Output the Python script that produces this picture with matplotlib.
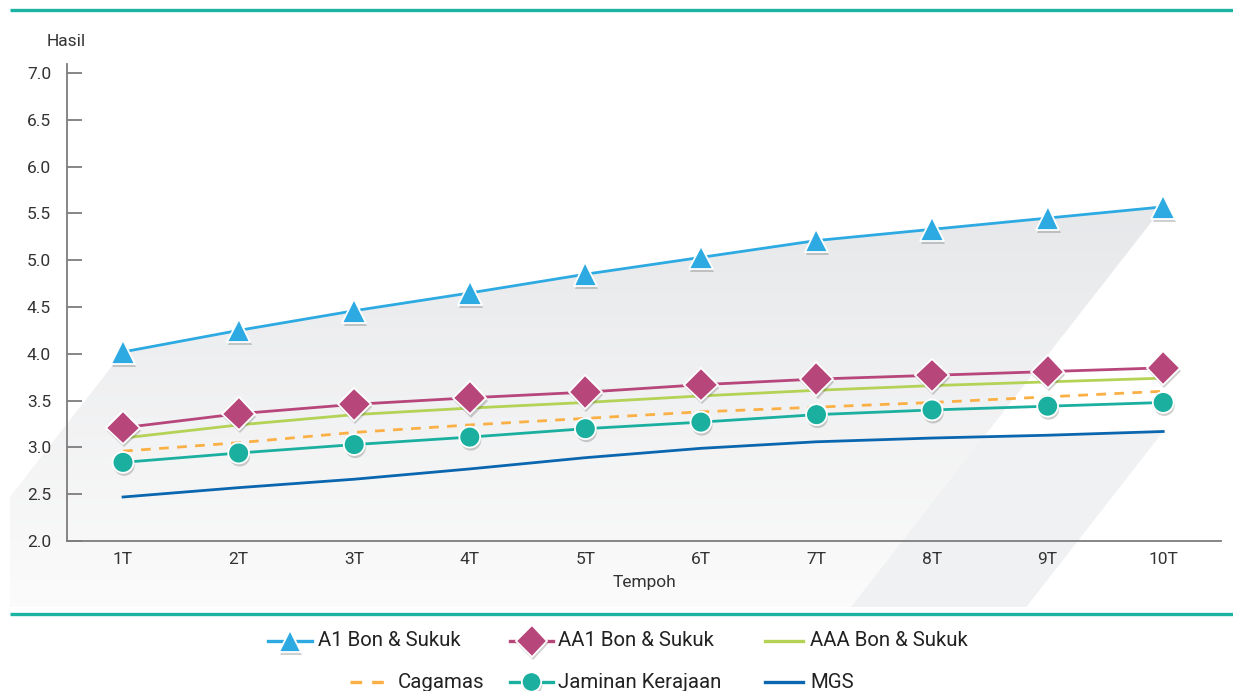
import matplotlib
matplotlib.use("Agg")
import matplotlib.pyplot as plt
import matplotlib.patheffects as pe
from matplotlib.patches import Polygon
import numpy as np

plt.rcParams['font.family'] = ['Roboto', 'DejaVu Sans']

# ---------------- data ----------------
tenors = ["1T", "2T", "3T", "4T", "5T", "6T", "7T", "8T", "9T", "10T"]
a1 = [4.02, 4.25, 4.46, 4.65, 4.85, 5.03, 5.21, 5.33, 5.45, 5.57]
aa1 = [3.21, 3.36, 3.46, 3.53, 3.59, 3.67, 3.73, 3.77, 3.81, 3.85]
aaa = [3.10, 3.24, 3.35, 3.42, 3.48, 3.55, 3.61, 3.66, 3.70, 3.74]
cagamas = [2.96, 3.05, 3.16, 3.24, 3.31, 3.38, 3.43, 3.48, 3.54, 3.60]
jaminan = [2.84, 2.94, 3.03, 3.11, 3.20, 3.27, 3.35, 3.40, 3.44, 3.48]
mgs = [2.47, 2.57, 2.66, 2.77, 2.89, 2.99, 3.06, 3.10, 3.13, 3.17]
names = ["A1 Bon & Sukuk", "AA1 Bon & Sukuk", "AAA Bon & Sukuk",
         "Cagamas", "Jaminan Kerajaan", "MGS"]
yticks = [2.0, 2.5, 3.0, 3.5, 4.0, 4.5, 5.0, 5.5, 6.0, 6.5, 7.0]

W, H = 1233, 691
fig = plt.figure(figsize=(W / 100, H / 100), dpi=100)
fig.patch.set_facecolor("white")

# background axes in pixel coordinates (y downward)
ax_bg = fig.add_axes([0, 0, 1, 1], zorder=0)
ax_bg.set_xlim(0, W)
ax_bg.set_ylim(H, 0)
ax_bg.axis("off")

ax = fig.add_axes([67 / W, (H - 541) / H, (1221 - 67) / W, (541 - 64) / H], zorder=1)
ax.set_facecolor("none")
x = np.arange(len(tenors))
ax.set_xlim(-0.485, 9.5)
ax.set_ylim(2.0, 7.096)

def to_px(xs, ys):
    pts = ax.transData.transform(np.column_stack([xs, ys]))
    return pts[:, 0], H - pts[:, 1]

shear = 0.78
bottom_y = 607
left_x = 10

# polygon 2 (behind) along MGS
mx, my = to_px(x, mgs)
poly2 = list(zip(mx, my)) + [(mx[-1] - shear * (bottom_y - my[-1]), bottom_y),
                             (mx[0] - shear * (bottom_y - my[0]), bottom_y)]
ax_bg.add_patch(Polygon(poly2, closed=True, facecolor="#f0f1f2", edgecolor="none", zorder=1))

# polygon 1 along A1 with gradient
ax_x, ax_y = to_px(x, a1)
yl = ax_y[0] + (ax_x[0] - left_x) / shear
poly1 = list(zip(ax_x, ax_y)) + [(ax_x[-1] - shear * (bottom_y - ax_y[-1]), bottom_y),
                                 (left_x, bottom_y), (left_x, yl)]
p1 = Polygon(poly1, closed=True, facecolor="none", edgecolor="none", zorder=2)
ax_bg.add_patch(p1)
grad = np.linspace(0, 1, 256).reshape(-1, 1)
c_top = np.array([0.905, 0.909, 0.918])
c_bot = np.array([0.985, 0.985, 0.985])
img = c_top[None, None, :] * (1 - grad[:, :, None]) + c_bot[None, None, :] * grad[:, :, None]
im = ax_bg.imshow(img, extent=(0, W, bottom_y, min(ax_y)), origin="upper",
                  aspect="auto", zorder=2, interpolation="bilinear")
im.set_clip_path(p1)
ax_bg.set_xlim(0, W)
ax_bg.set_ylim(H, 0)

# teal rules
teal_rule = "#1db3a2"
ax_bg.plot([10, W], [10, 10], color=teal_rule, lw=2.4, solid_capstyle="butt", zorder=3)
ax_bg.plot([10, W], [614, 614], color=teal_rule, lw=2.4, solid_capstyle="butt", zorder=3)

# ---------------- series ----------------
c_a1 = "#2eaae2"
c_aa1 = "#b7467b"
c_aaa = "#b3d256"
c_cag = "#fbb045"
c_jam = "#1bafa0"
c_mgs = "#0a66ae"

shadow = [pe.SimplePatchShadow(offset=(0.8, -2.2), shadow_rgbFace="#444444", alpha=0.25), pe.Normal()]

ax.plot(x, mgs, color=c_mgs, lw=2.0, zorder=3)
ax.plot(x, jaminan, color=c_jam, lw=2.0, zorder=3)
ax.plot(x, cagamas, color=c_cag, lw=2.0, ls=(0, (3.5, 3)), zorder=3)
ax.plot(x, aaa, color=c_aaa, lw=2.0, zorder=3)
ax.plot(x, aa1, color=c_aa1, lw=2.0, zorder=3)
ax.plot(x, a1, color=c_a1, lw=2.0, zorder=3)

mk = dict(ls="none", mec="white", mew=1.3, zorder=4, path_effects=shadow)
ax.plot(x, jaminan, marker="o", ms=15, mfc=c_jam, **mk)
ax.plot(x, aa1, marker="D", ms=17, mfc=c_aa1, **mk)
ax.plot(x, a1, marker="^", ms=17, mfc=c_a1, **mk)

# ---------------- axes styling ----------------
for s in ["top", "right"]:
    ax.spines[s].set_visible(False)
for s in ["left", "bottom"]:
    ax.spines[s].set_color("#7d7d7d")
    ax.spines[s].set_linewidth(1.3)
ax.set_yticks(yticks)
ax.set_yticklabels([f"{v:.1f}" for v in yticks])
ax.set_xticks(x)
ax.set_xticklabels(tenors)
ax.tick_params(axis="y", direction="in", length=10.5, width=1.3, color="#7d7d7d",
               pad=11.5, labelsize=12.5, labelcolor="#333333")
ax.tick_params(axis="x", length=0, pad=8, labelsize=12.5, labelcolor="#333333")
ax.set_xlabel("Tempoh", fontsize=12.5, color="#333333", labelpad=6)
fig.text(47 / W, (H - 42) / H, "Hasil", fontsize=12.5, color="#333333", ha="left", va="center")

# ---------------- legend ----------------
entries = [
    (names[0], c_a1, "-", "^", 16, 268, 312, 318, 641),
    (names[1], c_aa1, "-", "D", 16, 510, 553, 558, 641),
    (names[2], c_aaa, "-", None, 0, 765, 803, 810, 641),
    (names[3], c_cag, (0, (3.5, 3)), None, 0, 350, 392, 398, 682),
    (names[4], c_jam, "-", "o", 14, 510, 553, 558, 682),
    (names[5], c_mgs, "-", None, 0, 765, 803, 810, 682),
]
for name, col, ls, m, ms, x0, x1, tx, ty in entries:
    ax_bg.plot([x0, x1], [ty, ty], color=col, lw=2.4, ls=ls, zorder=5, clip_on=False)
    if m:
        ax_bg.plot([(x0 + x1) / 2], [ty], marker=m, ms=ms, mfc=col, mec="white", mew=1.3,
                   ls="none", zorder=6, clip_on=False, path_effects=shadow)
    ax_bg.text(tx, ty, name, fontsize=14.7, color="#222222", ha="left", va="center", zorder=6)

fig.savefig("out.png", dpi=100, facecolor="white")
